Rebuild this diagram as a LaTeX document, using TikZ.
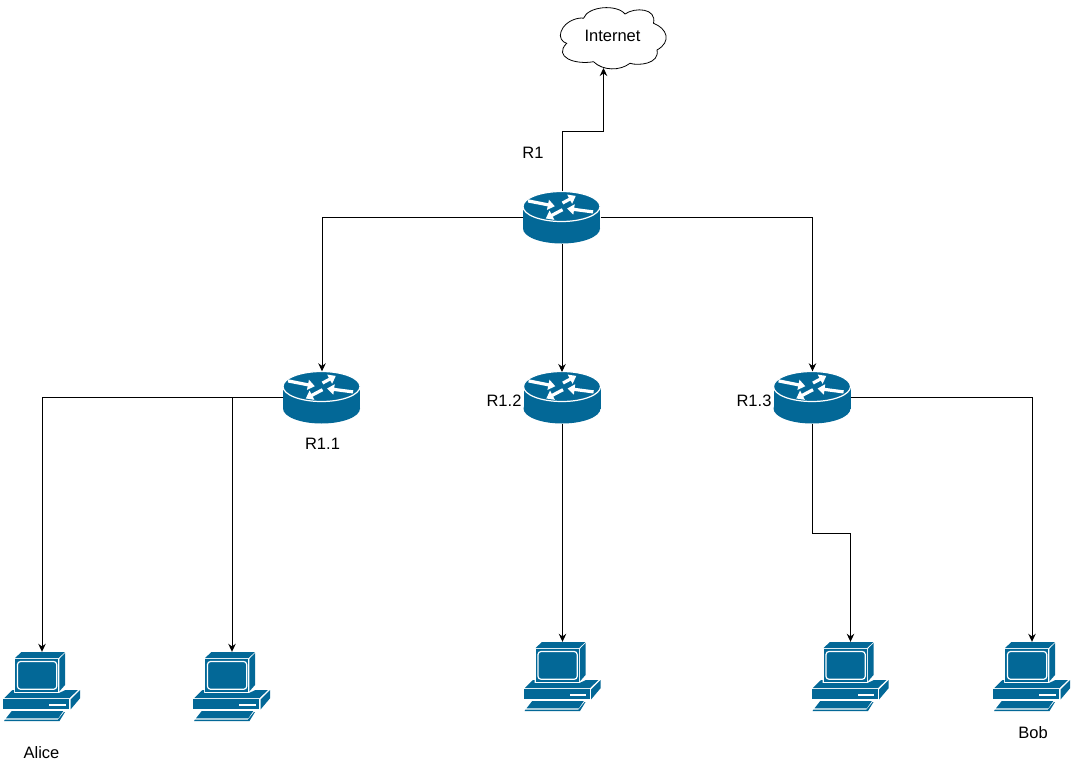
\documentclass[tikz,border=0pt]{standalone}
\usepackage{fontspec}
\setmainfont{Liberation Sans}
\usetikzlibrary{arrows.meta}
\definecolor{ciscoblue}{HTML}{036897}
\tikzset{
	link/.style={draw=black, line width=0.9pt, -{Stealth[length=8pt,width=7.5pt]}},
	routerbox/.style={minimum width=77pt, minimum height=52pt, inner sep=0pt},
	pcbox/.style={minimum width=77pt, minimum height=69pt, inner sep=0pt},
	lbl/.style={font=\fontsize{16.5}{18}\selectfont, inner sep=0pt},
	whitearrow/.style={draw=white, line width=3.2pt, -{Triangle[length=7pt,width=10pt]}},
	router/.pic={
		\fill[ciscoblue] (-39,-11) rectangle (38,11);
		\fill[ciscoblue] (-0.5,11) ellipse [x radius=38.5pt, y radius=15pt];
		\draw[white, fill=ciscoblue, line width=1.2pt] (-0.5,-11) ellipse [x radius=38.5pt, y radius=15pt];
		\draw[whitearrow] (-33.9,-16.6) -- (-7.2,-11.3);
		\draw[whitearrow] (31.1,-5.6) -- (5.1,-9);
		\draw[whitearrow] (0.5,-14.5) -- (13.8,-21.6);
		\draw[whitearrow] (0.5,-7.8) -- (-16.2,1);
	},
	pc/.pic={
		\fill[ciscoblue] (-27,-28.5) -- (-20.5,-34.5) -- (23,-34.5) -- (16.5,-28.5) -- cycle;
		\fill[ciscoblue] (17.3,-27.5) -- (23,-33.5) -- (23,-1.5) -- (17.3,5) -- cycle;
		\fill[ciscoblue] (-27,-27.5) rectangle (16.3,5.2);
		\draw[white, line width=1.2pt, rounded corners=3pt] (-24.5,-25) rectangle (14.7,2.8);
		\fill[ciscoblue] (-37.7,11.5) -- (-29.5,3.5) -- (-28,3.5) -- (-28,6.5) -- (17,6.5) -- (23.5,3.5) -- (36,3.5) -- (27.5,11.5) -- cycle;
		\fill[ciscoblue] (28.7,12.8) -- (38,3.5) -- (38,11.8) -- (28.7,22.8) -- cycle;
		\fill[ciscoblue] (-38.7,12.8) rectangle (27.3,22.8);
		\fill[white] (7,17.8) rectangle (23.7,19.8);
		\fill[ciscoblue] (-30.3,24.5) -- (21.3,24.5) -- (16.3,31.8) -- (-36,31.8) -- cycle;
		\fill[ciscoblue] (-37,33) -- (16,33) -- (22,25.5) -- (23,25.5) -- (17.5,34.5) -- (-38,34.5) -- cycle;
	},
}
\begin{document}
\begin{tikzpicture}[x=1pt, y=-1pt]
	\useasboundingbox (0,0) rectangle (1072,763);

	\node[routerbox] (r1) at (562,217.5) {};
	\node[routerbox] (r11) at (322,397.5) {};
	\node[routerbox] (r12) at (562.5,397.5) {};
	\node[routerbox] (r13) at (812.5,397.5) {};
	\pic at (r1) {router};
	\pic at (r11) {router};
	\pic at (r12) {router};
	\pic at (r13) {router};

	\node[pcbox] (alice) at (42,686.5) {};
	\node[pcbox] (pc2) at (232,686.5) {};
	\node[pcbox] (pc3) at (562.5,676.5) {};
	\node[pcbox] (pc4) at (850.5,676.5) {};
	\node[pcbox] (bob) at (1032,676.5) {};
	\pic at (alice) {pc};
	\pic at (pc2) {pc};
	\pic at (pc3) {pc};
	\pic at (pc4) {pc};
	\pic at (bob) {pc};

	\draw[line width=0.8pt, fill=white] (561,31.7) .. controls (565,20) and (580,17) .. (583.5,18.3) .. controls (588,6) and (617,4) .. (625,14) .. controls (635,7) and (657,8) .. (653.5,23.3) .. controls (667,28.3) and (672,41.7) .. (657,50) .. controls (660,64) and (638,66) .. (630,63.3) .. controls (620,71) and (603,71) .. (593.5,61.7) .. controls (575,65) and (553,57) .. (566.7,43.3) .. controls (561.7,42) and (559,37) .. (561,31.7) -- cycle;
	\node[lbl] (inet) at (612.5,36) {Internet};
	\coordinate (inettip) at (603.5,68);

	\draw[link] (r1.north) -- (562,131.5) -| (inettip);
	\draw[link] (r1.west) -| (r11.north);
	\draw[link] (r1.south) -- (562,372);
	\draw[link] (r1.east) -| (r13.north);
	\draw[link] (r11.west) -| (alice.north);
	\draw[link] (r11.west) -| (pc2.north);
	\draw[link] (r12.south) -- (pc3.north);
	\draw[link] (r13.south) |- (850.5,533) -- (pc4.north);
	\draw[link] (r13.east) -| (bob.north);

	\node[lbl] (r1lbl) at (533,153) {R1};
	\node[lbl] (r11lbl) at (322.5,444) {R1.1};
	\node[lbl] (r12lbl) at (504,400.5) {R1.2};
	\node[lbl] (r13lbl) at (754,400.5) {R1.3};
	\node[lbl] (alicelbl) at (41.5,753) {Alice};
	\node[lbl] (boblbl) at (1033,733) {Bob};
\end{tikzpicture}
\end{document}
